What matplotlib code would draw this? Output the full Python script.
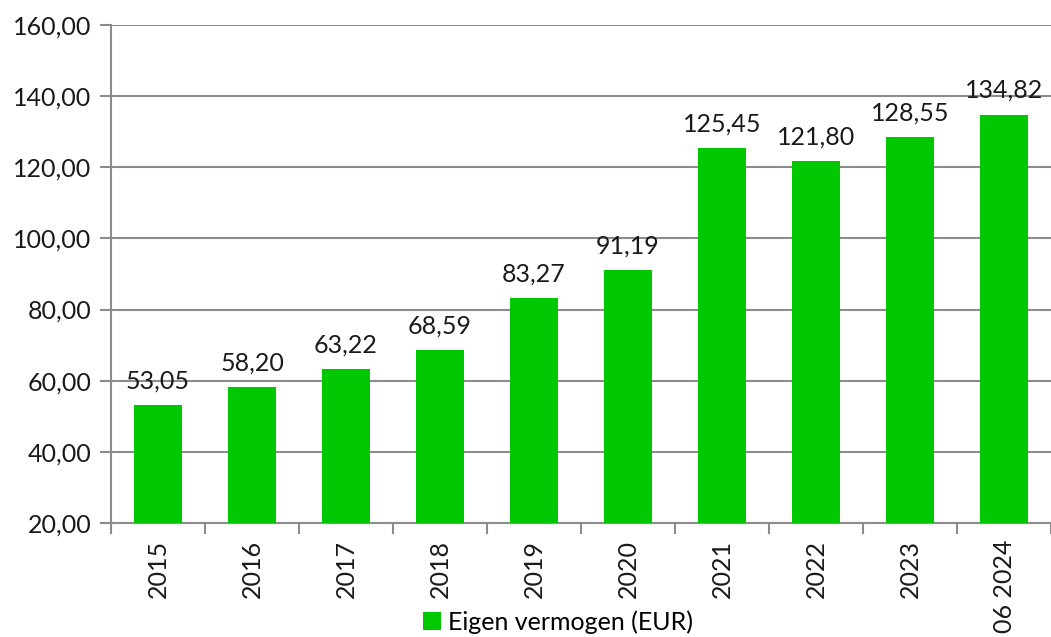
import matplotlib.pyplot as plt
import numpy as np

categories = ["2015", "2016", "2017", "2018", "2019", "2020", "2021", "2022", "2023", "06 2024"]
values = [53.05, 58.20, 63.22, 68.59, 83.27, 91.19, 125.45, 121.80, 128.55, 134.82]
series_name = "Eigen vermogen (EUR)"

plt.rcParams['font.family'] = ['Lato', 'DejaVu Sans']
fs = 18
txt = "#1a1a1a"
grey = "#8c8c8c"

fig = plt.figure(figsize=(10.51, 6.37), dpi=100)
ax = fig.add_axes([111/1051, 1 - 523/637, 1 - 111/1051, (523 - 25)/637])

x = np.arange(len(categories))
bars = ax.bar(x, values, width=0.52, color="#00c800", zorder=3, label=series_name)

# value labels above bars
for xi, v in zip(x, values):
    ax.annotate(f"{v:.2f}".replace(".", ","), (xi, v), xytext=(0, 12), textcoords="offset points",
                ha="center", va="baseline", fontsize=fs, color=txt, zorder=4)

ax.set_ylim(20, 160)
ax.set_xlim(-0.5, len(categories) - 0.5)
yt = np.arange(20, 161, 20)
ax.set_yticks(yt)
ax.set_yticklabels([f"{v:.2f}".replace(".", ",") for v in yt], fontsize=fs, color=txt)
ax.yaxis.grid(True, color=grey, linewidth=1.5, zorder=0)
ax.tick_params(axis="y", length=8, width=1.5, color=grey, pad=6)

ax.set_xticks(x)
ax.set_xticklabels(categories, rotation=90, fontsize=fs, color=txt)
ax.tick_params(axis="x", length=0, pad=12)
ax.set_xticks(np.arange(-0.5, len(categories), 1), minor=True)
ax.tick_params(axis="x", which="minor", length=8, width=1.5, color=grey)

for s in ["top", "right"]:
    ax.spines[s].set_visible(False)
for s in ["left", "bottom"]:
    ax.spines[s].set_color(grey)
    ax.spines[s].set_linewidth(1.5)

fig.legend(handles=[bars], labels=[series_name], loc="center", bbox_to_anchor=(558/1051, 1 - 622/637),
           frameon=False, fontsize=fs, handlelength=0.7, handleheight=0.7, handletextpad=0.3)

fig.savefig("out.png", dpi=100)
